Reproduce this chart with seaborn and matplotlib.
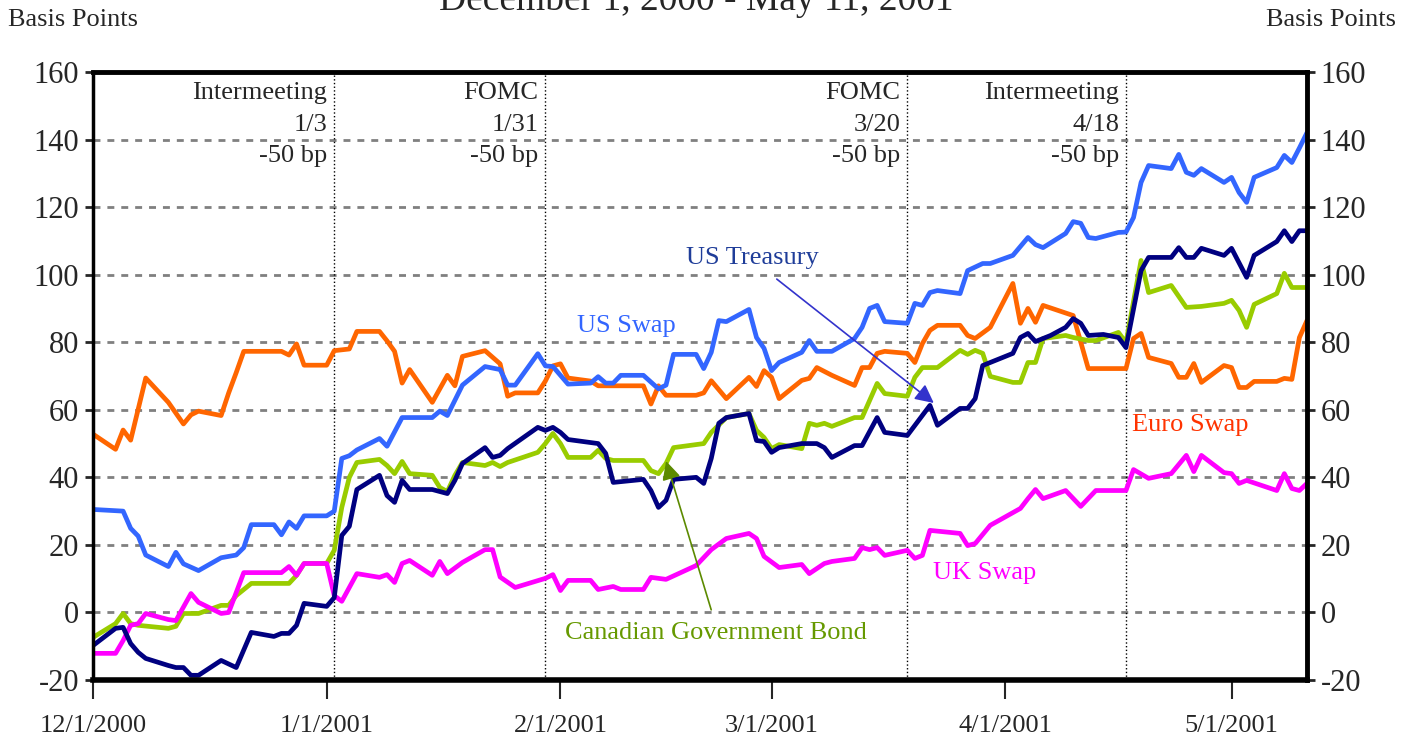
import pandas as pd
import matplotlib.pyplot as plt
import seaborn as sns

# ------------------------------------------
# data: days after 12/1/2000, spread in bp
# ------------------------------------------
START = pd.Timestamp('2000-12-01')
END = pd.Timestamp('2001-05-11')

euro_days = [0, 3, 4, 5, 7, 10, 12, 13, 14, 17, 18, 19, 20, 25, 26, 27, 28, 31, 32, 34,
             35, 38, 39, 40, 41, 42, 45, 47, 48, 49, 52, 54, 55, 56, 59, 60, 61, 62, 63, 66,
             67, 73, 74, 75, 76, 80, 81, 82, 84, 87, 88, 89, 90, 91, 94, 95, 96, 98, 101, 102,
             103, 104, 105, 108, 109, 110, 111, 112, 115, 116, 117, 119, 122, 123, 124, 125, 126, 130, 132, 137,
             138, 139, 140, 143, 144, 145, 146, 147, 150, 151, 152, 153, 154, 157, 158, 159, 160, 161]
euro_bp = [52.8, 48.3, 54, 51, 69.4, 62.2, 55.8, 58.5, 59.6, 58.3, 65, 71, 77.3, 77.3, 76.2, 79.5, 73.2, 73.2, 77.5, 78,
           83.2, 83.2, 80.4, 77.3, 67.9, 71.9, 62.2, 70.2, 67.1, 75.8, 77.5, 73.6, 64, 65, 65, 68.5, 73, 73.6, 69.4, 68.5,
           67.1, 67.1, 61.7, 67.1, 64.3, 64.3, 65, 68.6, 63.3, 69.6, 66.9, 71.6, 69.6, 63.3, 68.7, 69.3, 72.5, 70.2, 67.2, 72.5,
           72.5, 76.7, 77.3, 76.7, 74, 79.6, 83.5, 85, 85, 82, 81.1, 84.4, 97.4, 85.6, 90, 85.9, 90.9, 87.9, 72.2, 72.2,
           81.1, 82.6, 75.5, 73.7, 69.6, 69.6, 73.7, 68.1, 73.1, 72.5, 66.6, 66.6, 68.4, 68.4, 69.3, 69, 81.4, 86.4]

usswap_days = [0, 4, 5, 6, 7, 10, 11, 12, 14, 17, 19, 20, 21, 24, 25, 26, 27, 28, 31, 32,
               33, 34, 35, 38, 39, 41, 45, 46, 47, 49, 52, 54, 55, 56, 59, 60, 61, 63, 66, 67,
               68, 69, 70, 73, 75, 76, 77, 80, 81, 82, 83, 84, 87, 88, 89, 90, 91, 94, 95, 96,
               98, 101, 102, 103, 104, 105, 108, 109, 110, 111, 112, 115, 116, 118, 119, 122, 124, 125, 126, 129,
               130, 131, 132, 133, 136, 137, 138, 139, 140, 143, 144, 145, 146, 147, 150, 151, 152, 153, 154, 157,
               158, 159, 160, 161]
usswap_bp = [30.5, 30, 24.9, 22.6, 17, 13.6, 17.8, 14.4, 12.4, 16.2, 17, 19.2, 26, 26, 23, 26.8, 24.9, 28.6, 28.6, 30,
             45.6, 46.4, 48.1, 51.5, 49.2, 57.7, 57.7, 59.6, 58.3, 67.3, 72.8, 71.9, 67.3, 67.3, 76.6, 73, 72.8, 67.6, 67.9, 69.8,
             67.9, 67.9, 70.2, 70.2, 66.2, 67.3, 76.4, 76.4, 72.2, 77, 86.4, 86.1, 89.7, 81.4, 78.2, 71.6, 74, 77, 80.5, 77.3,
             77.3, 81.1, 84.4, 90, 90.9, 86.1, 85.6, 91.5, 90.9, 94.7, 95.3, 94.4, 101.2, 103.3, 103.3, 105.7, 111, 108.9, 108, 112.2,
             115.7, 115.2, 111, 110.7, 112.5, 112.6, 116.9, 127.3, 132.3, 131.4, 135.6, 130.3, 129.4, 131.4, 127.3, 128.8, 124.3, 121.4, 128.8, 131.7,
             135.3, 133.2, 137.5, 142]

ust_days = [0, 3, 4, 5, 6, 7, 10, 11, 12, 13, 14, 17, 19, 21, 24, 25, 26, 27, 28, 31,
            32, 33, 34, 35, 38, 39, 40, 41, 42, 45, 47, 48, 49, 52, 53, 54, 55, 59, 60, 61,
            62, 63, 67, 68, 69, 73, 74, 75, 76, 77, 80, 81, 82, 83, 84, 87, 88, 89, 90, 91,
            94, 96, 97, 98, 101, 102, 104, 105, 108, 111, 112, 115, 116, 117, 118, 122, 123, 124, 125, 127,
            129, 130, 131, 132, 134, 136, 137, 139, 140, 143, 144, 145, 146, 147, 150, 151, 153, 154, 157, 158,
            159, 160, 161]
ust_bp = [-9.8, -4.7, -4.4, -9.2, -11.8, -13.6, -15.7, -16.3, -16.3, -18.6, -18.6, -14.2, -16.3, -5.9, -7.1, -6.2, -6.2, -3.8, 2.7, 1.8,
          4.4, 22.8, 25.5, 36.4, 40.6, 34.6, 32.6, 39.1, 36.4, 36.4, 35.2, 39.1, 44.1, 48.8, 45.9, 46.5, 48.5, 54.8, 53.9, 54.8,
          53.3, 51.2, 50, 47.1, 38.5, 39.4, 36.1, 31.1, 33.2, 39.4, 40, 38.2, 45.6, 56, 57.7, 58.9, 50.9, 50.6, 47.4, 48.8,
          50, 50, 48.8, 45.9, 49.4, 49.4, 57.7, 53.3, 52.4, 61.3, 55.4, 60.4, 60.4, 63.3, 73.1, 76.7, 81.4, 82.6, 80.2, 82,
          84.4, 87, 85.6, 82, 82.3, 81.4, 78.4, 101.2, 105.1, 105.1, 108, 105.1, 105.1, 107.8, 105.7, 107.8, 99.2, 105.7, 109.8, 113,
          109.8, 113, 113]

cad_days = [0, 3, 4, 5, 6, 10, 11, 12, 14, 17, 18, 19, 21, 26, 27, 28, 31, 32, 33, 34,
            35, 38, 39, 40, 41, 42, 45, 46, 47, 48, 49, 52, 53, 54, 55, 59, 60, 61, 62, 63,
            66, 67, 68, 69, 73, 74, 75, 76, 77, 81, 82, 84, 87, 88, 89, 90, 91, 94, 95, 96,
            97, 98, 101, 102, 104, 105, 108, 109, 110, 112, 115, 116, 117, 118, 119, 122, 123, 124, 125, 126,
            129, 130, 132, 133, 136, 137, 139, 140, 143, 145, 147, 150, 151, 152, 153, 154, 157, 158, 159, 161]
cad_bp = [-7.4, -3.3, -0.3, -3.3, -3.8, -4.7, -4.1, -0.3, -0.3, 2.1, 2.1, 5, 8.6, 8.6, 11, 14.5, 14.5, 18.4, 31.1, 40,
          44.4, 45.3, 43.5, 41.1, 44.7, 41.1, 40.6, 37, 35.8, 40.6, 44.4, 43.5, 44.4, 43.2, 44.4, 47.4, 50, 53, 50, 45.9,
          45.9, 48, 45.6, 45, 45, 42, 41.1, 44.1, 48.8, 50, 53.3, 57.7, 58.9, 53.9, 51.8, 48.5, 49.7, 48.5, 56, 55.4,
          56, 55.1, 57.7, 57.7, 67.8, 64.8, 64, 69.6, 72.5, 72.5, 77.6, 76.4, 77.6, 76.7, 69.9, 68.1, 68.1, 74, 74, 81.1,
          82, 81.4, 80.5, 80.5, 82.9, 79.9, 104.2, 94.7, 96.8, 90.3, 90.6, 91.5, 92.4, 89.4, 84.4, 91.2, 94.4, 100.4, 96.2, 96.2]

uk_days = [0, 3, 4, 5, 6, 7, 10, 11, 13, 14, 17, 18, 20, 25, 26, 27, 28, 31, 32, 33,
           35, 38, 39, 40, 41, 42, 45, 46, 47, 49, 52, 53, 54, 56, 60, 61, 62, 63, 66, 67,
           69, 70, 73, 74, 76, 80, 82, 84, 87, 88, 89, 91, 94, 95, 97, 98, 101, 102, 103, 104,
           105, 108, 109, 110, 111, 115, 116, 117, 119, 123, 124, 125, 126, 129, 131, 133, 137, 138, 140, 143,
           145, 146, 147, 150, 151, 152, 153, 157, 158, 159, 160, 161]
uk_bp = [-12.1, -12.1, -8.3, -3.8, -3.3, -0.3, -2.1, -2.4, 5.6, 3, -0.3, 0, 11.8, 11.8, 13.6, 11, 14.5, 14.5, 5, 3.3,
         11.5, 10.4, 11.2, 8.9, 14.5, 15.4, 11, 15.1, 11.5, 14.8, 18.6, 18.6, 10.5, 7.4, 10.1, 11.2, 6.5, 9.5, 9.5, 6.8,
         7.7, 6.8, 6.8, 10.4, 9.8, 13.9, 18.6, 21.9, 23.4, 21.9, 16.6, 13.3, 14.2, 11.5, 14.5, 15.1, 16, 19.2, 18.6, 19.2,
         16.9, 18.4, 16, 16.9, 24.3, 23.4, 19.8, 20.4, 25.8, 30.8, 33.7, 36.4, 33.7, 36.1, 31.4, 36.1, 36.1, 42.3, 39.7, 41.1,
         46.5, 41.7, 46.5, 41.4, 41.1, 38.2, 39.1, 36.1, 41.1, 36.7, 36.1, 38.2]

series = ['Euro Swap', 'US Swap', 'Canadian Government Bond', 'UK Swap', 'US Treasury']
colors = {'Euro Swap': '#FF6600', 'US Swap': '#3366FF', 'Canadian Government Bond': '#99CC00',
          'UK Swap': '#FF00FF', 'US Treasury': '#000080'}

# Fed moves (dotted lines + labels)
event_dates = ['2001-01-02', '2001-01-30', '2001-03-19', '2001-04-17']
event_labels = ['Intermeeting\n1/3\n-50 bp', 'FOMC\n1/31\n-50 bp', 'FOMC\n3/20\n-50 bp', 'Intermeeting\n4/18\n-50 bp']

tick_dates = ['2000-12-01', '2001-01-01', '2001-02-01', '2001-03-01', '2001-04-01', '2001-05-01']
tick_labels = ['12/1/2000', '1/1/2001', '2/1/2001', '3/1/2001', '4/1/2001', '5/1/2001']
y_ticks = [-20, 0, 20, 40, 60, 80, 100, 120, 140, 160]

# ------------------------------------------
# long table for seaborn
# ------------------------------------------
frames = []
for name, days, bp in [('Euro Swap', euro_days, euro_bp), ('US Swap', usswap_days, usswap_bp),
                       ('Canadian Government Bond', cad_days, cad_bp), ('UK Swap', uk_days, uk_bp),
                       ('US Treasury', ust_days, ust_bp)]:
    frames.append(pd.DataFrame({'date': START + pd.to_timedelta(days, unit='D'),
                                'bp': bp, 'series': name}))
df = pd.concat(frames, ignore_index=True)

def day(d):
    return START + pd.Timedelta(days=d)

# ------------------------------------------
# plot
# ------------------------------------------
sns.set_style('white')
plt.rcParams['font.family'] = ['Liberation Serif', 'DejaVu Serif']
plt.rcParams['axes.unicode_minus'] = False

fig = plt.figure(figsize=(14.02, 7.45), dpi=100)
ax = fig.add_axes([0.0663, 0.0872, 0.8659, 0.8162])

sns.lineplot(data=df, x='date', y='bp', hue='series', hue_order=series, palette=colors,
             linewidth=3.4, estimator=None, sort=False, legend=False, ax=ax)

ax.set_xlim(START, END)
ax.set_ylim(-20, 160)
ax.set_xlabel('')
ax.set_ylabel('')

ax.set_yticks(y_ticks)
ax.set_xticks(pd.to_datetime(tick_dates))
ax.set_xticklabels(tick_labels)
ax.tick_params(axis='y', left=True, right=True, labelleft=True, labelright=True,
               direction='out', length=6, width=2, labelsize=22, pad=4)
ax.tick_params(axis='x', bottom=True, direction='out', length=14, width=1.5, labelsize=19, pad=11)

ax.yaxis.grid(True, linestyle=(0, (2.5, 2.5)), color='#808080', linewidth=2)
ax.xaxis.grid(False)
ax.set_axisbelow(True)

for side in ['top', 'right']:
    ax.spines[side].set_linewidth(3.5)
ax.spines['bottom'].set_linewidth(4)
ax.spines['left'].set_linewidth(2.5)
for sp in ax.spines.values():
    sp.set_color('black')

for d, lab in zip(event_dates, event_labels):
    ax.axvline(pd.Timestamp(d), color='black', linestyle=':', linewidth=1, zorder=1)
    ax.annotate(lab, xy=(pd.Timestamp(d), 1), xycoords=('data', 'axes fraction'),
                xytext=(-5, -7), textcoords='offset points', ha='right', va='top',
                multialignment='right', fontsize=19, linespacing=1.58)

# series labels and arrows
ax.text(day(87.4), 104.8, 'US Treasury', color='#1F3D99', fontsize=19, ha='center', va='center')
ax.annotate('', xy=(day(111.8), 61.5), xytext=(day(90.4), 99.2),
            arrowprops=dict(arrowstyle='-|>', color='#3333CC', lw=1.2, mutation_scale=28))
ax.text(day(70.8), 84.7, 'US Swap', color='#3366FF', fontsize=19, ha='center', va='center')
ax.text(day(82.6), -6.2, 'Canadian Government Bond', color='#669900', fontsize=19, ha='center', va='center')
ax.annotate('', xy=(day(75.9), 45.6), xytext=(day(82.1), 0),
            arrowprops=dict(arrowstyle='-|>', color='#5C8A00', lw=1.2, mutation_scale=28))
ax.text(day(145.5), 55.4, 'Euro Swap', color='#FF3300', fontsize=19, ha='center', va='center')
ax.text(day(118.3), 11.8, 'UK Swap', color='#FF00FF', fontsize=19, ha='center', va='center')

fig.text(0.497, 0.987, 'December 1, 2000 - May 11, 2001', ha='center', va='baseline', fontsize=27)
fig.text(0.006, 0.973, 'Basis Points', ha='left', va='center', fontsize=19)
fig.text(0.996, 0.973, 'Basis Points', ha='right', va='center', fontsize=19)

fig.savefig('out.png', dpi=100)
